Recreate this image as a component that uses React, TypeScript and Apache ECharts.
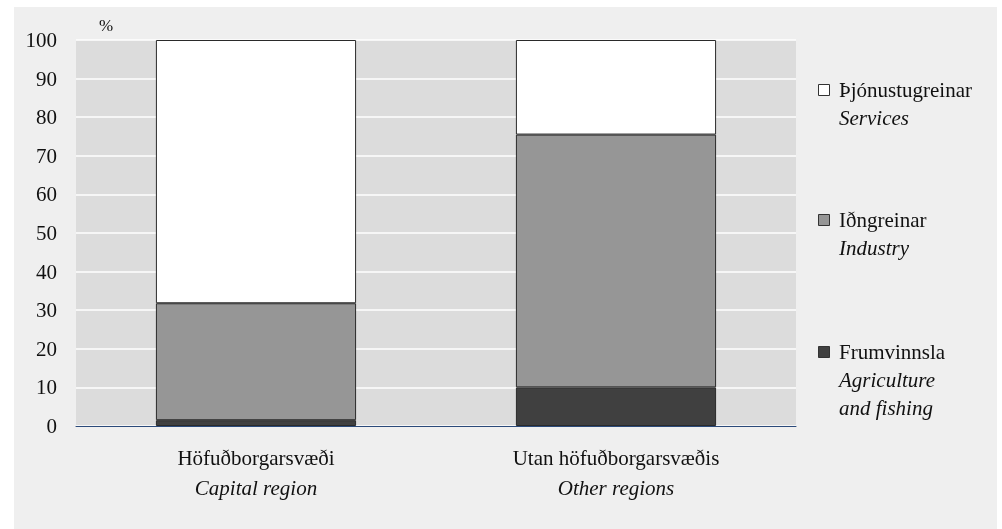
import React, { useEffect, useRef } from "react";
import * as echarts from "echarts";

const categories = ["Höfuðborgarsvæði", "Utan höfuðborgarsvæðis"];
const categoriesEn = ["Capital region", "Other regions"];
const seriesNames = ["Frumvinnsla", "Iðngreinar", "Þjónustugreinar"];
const seriesNamesEn = [["Agriculture", "and fishing"], ["Industry"], ["Services"]];
const primaryValues = [1.5, 10.0];
const industryValues = [30.3, 65.5];
const servicesValues = [68.2, 24.5];
const seriesColors = ["#404040", "#969696", "#ffffff"];
const yMin = 0;
const yMax = 100;
const yInterval = 10;

const FONT = '"Liberation Serif", "Times New Roman", serif';

export default function App() {
  const ref = useRef<HTMLDivElement>(null);

  useEffect(() => {
    if (!ref.current) return;
    const chart = echarts.init(ref.current, undefined, { renderer: "svg" });
    const values = [primaryValues, industryValues, servicesValues];

    // legend drawn as graphic (top to bottom: services, industry, primary)
    const legendCenters = [352, 220, 90];
    const lineH = 28;
    const legendEls: any[] = [];
    seriesNames.forEach((name, i) => {
      const c = legendCenters[i];
      legendEls.push({
        type: "rect",
        shape: { x: 818.5, y: c - 5.5, width: 11, height: 11 },
        style: { fill: seriesColors[i], stroke: "#333", lineWidth: 1 },
        z: 10,
      });
      legendEls.push({
        type: "text",
        x: 839,
        y: c,
        style: {
          text: name,
          font: `21px ${FONT}`,
          fill: "#111",
          verticalAlign: "middle",
          align: "left",
        },
        z: 10,
      });
      seriesNamesEn[i].forEach((ln, j) => {
        legendEls.push({
          type: "text",
          x: 839,
          y: c + lineH * (j + 1),
          style: {
            text: ln,
            font: `italic 21px ${FONT}`,
            fill: "#111",
            verticalAlign: "middle",
            align: "left",
          },
          z: 10,
        });
      });
    });

    const option: any = {
      animation: false,
      textStyle: { fontFamily: FONT },
      graphic: [
        {
          type: "rect",
          shape: { x: 14, y: 7, width: 983, height: 530 },
          style: { fill: "#efefef" },
          z: -10,
          silent: true,
        },
        ...legendEls,
      ],
      grid: {
        left: 76,
        right: 206,
        top: 40,
        bottom: 103,
        show: true,
        backgroundColor: "#dcdcdc",
        borderWidth: 0,
        containLabel: false,
      },
      xAxis: {
        type: "category",
        data: categories,
        axisTick: { show: false },
        axisLine: { show: true, lineStyle: { color: "#2b4a7a", width: 1 } },
        axisLabel: {
          margin: 17,
          interval: 0,
          formatter: (v: string, idx: number) => `{a|${v}}\n{b|${categoriesEn[idx]}}`,
          rich: {
            a: { fontSize: 21, fontFamily: FONT, color: "#111", lineHeight: 30 },
            b: { fontSize: 21, fontFamily: FONT, fontStyle: "italic", color: "#111", lineHeight: 30 },
          },
        },
        z: 5,
      },
      yAxis: {
        type: "value",
        min: yMin,
        max: yMax,
        interval: yInterval,
        name: "%",
        nameLocation: "end",
        nameGap: 6,
        nameTextStyle: {
          fontSize: 17,
          fontFamily: FONT,
          color: "#111",
          align: "left",
          padding: [0, 0, 0, 23],
        },
        axisLine: { show: false },
        axisTick: { show: false },
        axisLabel: { margin: 19, fontSize: 21, fontFamily: FONT, color: "#111" },
        splitLine: { show: true, lineStyle: { color: "#ffffff", width: 1.5 } },
      },
      series: seriesNames.map((name, i) => ({
        name,
        type: "bar",
        stack: "total",
        data: values[i],
        barWidth: "55.6%",
        itemStyle: { color: seriesColors[i], borderColor: "#2a2a2a", borderWidth: 1 },
      })),
    };
    chart.setOption(option);
    return () => chart.dispose();
  }, []);

  return (
    <div
      ref={ref}
      style={{ position: "fixed", left: 0, top: 0, width: 1002, height: 529 }}
    />
  );
}
